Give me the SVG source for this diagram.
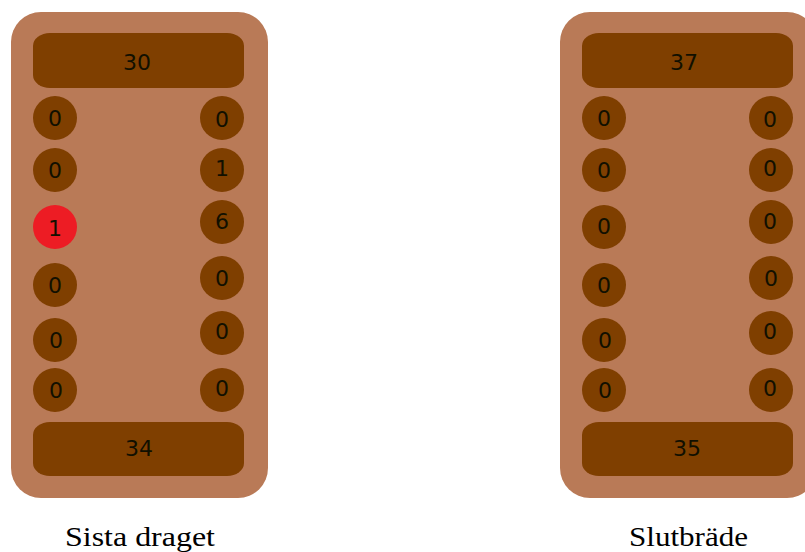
<svg xmlns="http://www.w3.org/2000/svg" width="805" height="552" viewBox="0 0 805 552">
<style>
.board{fill:#B97A57}
.store{fill:#7F3F00}
.pit{fill:#7F3F00}
.hot{fill:#ED1C24}
.num{font-family:"DejaVu Sans",Verdana,sans-serif;font-size:22px;fill:#111000;text-anchor:middle;dominant-baseline:central}
.cap{font-family:"Liberation Serif","DejaVu Serif",serif;font-size:27px;fill:#000;text-anchor:middle}
</style>
<rect width="805" height="552" fill="#fff"/>
<g id="board-left">
<rect class="board" x="11" y="12" width="257" height="486" rx="30" ry="30"/>
<rect class="store" x="33" y="33" width="211" height="55" rx="17" ry="13"/>
<text class="num" x="137" y="62">30</text>
<rect class="store" x="33" y="422" width="211" height="54" rx="17" ry="13"/>
<text class="num" x="139" y="448">34</text>
<circle class="pit" cx="55" cy="118" r="22"/><text class="num" x="55" y="118">0</text>
<circle class="pit" cx="55" cy="170" r="22"/><text class="num" x="55" y="170">0</text>
<circle class="hot" cx="55" cy="227" r="22"/><text class="num" x="55" y="228">1</text>
<circle class="pit" cx="55" cy="285" r="22"/><text class="num" x="55" y="285">0</text>
<circle class="pit" cx="55" cy="340" r="22"/><text class="num" x="56" y="340">0</text>
<circle class="pit" cx="55" cy="390" r="22"/><text class="num" x="56" y="390">0</text>
<circle class="pit" cx="222" cy="118" r="22"/><text class="num" x="222" y="119">0</text>
<circle class="pit" cx="222" cy="170" r="22"/><text class="num" x="222" y="168">1</text>
<circle class="pit" cx="222" cy="222" r="22"/><text class="num" x="222" y="221">6</text>
<circle class="pit" cx="222" cy="278" r="22"/><text class="num" x="222" y="278">0</text>
<circle class="pit" cx="222" cy="333" r="22"/><text class="num" x="222" y="331">0</text>
<circle class="pit" cx="222" cy="390" r="22"/><text class="num" x="222" y="388">0</text>
</g>
<g id="board-right">
<rect class="board" x="560" y="12" width="257" height="486" rx="30" ry="30"/>
<rect class="store" x="582" y="33" width="211" height="55" rx="17" ry="13"/>
<text class="num" x="684" y="62">37</text>
<rect class="store" x="582" y="422" width="211" height="54" rx="17" ry="13"/>
<text class="num" x="687" y="448">35</text>
<circle class="pit" cx="604" cy="118" r="22"/><text class="num" x="604" y="118">0</text>
<circle class="pit" cx="604" cy="170" r="22"/><text class="num" x="604" y="170">0</text>
<circle class="pit" cx="604" cy="227" r="22"/><text class="num" x="604" y="226">0</text>
<circle class="pit" cx="604" cy="285" r="22"/><text class="num" x="604" y="285">0</text>
<circle class="pit" cx="604" cy="340" r="22"/><text class="num" x="605" y="340">0</text>
<circle class="pit" cx="604" cy="390" r="22"/><text class="num" x="605" y="390">0</text>
<circle class="pit" cx="771" cy="118" r="22"/><text class="num" x="770" y="119">0</text>
<circle class="pit" cx="771" cy="170" r="22"/><text class="num" x="770" y="168">0</text>
<circle class="pit" cx="771" cy="222" r="22"/><text class="num" x="770" y="221">0</text>
<circle class="pit" cx="771" cy="278" r="22"/><text class="num" x="771" y="278">0</text>
<circle class="pit" cx="771" cy="333" r="22"/><text class="num" x="770" y="331">0</text>
<circle class="pit" cx="771" cy="390" r="22"/><text class="num" x="770" y="388">0</text>
</g>
<g id="connectors"></g>
<g id="captions">
<text class="cap" x="140" y="546" textLength="150" lengthAdjust="spacingAndGlyphs">Sista draget</text>
<text class="cap" x="688.5" y="546" textLength="119" lengthAdjust="spacingAndGlyphs">Slutbräde</text>
</g>
</svg>
